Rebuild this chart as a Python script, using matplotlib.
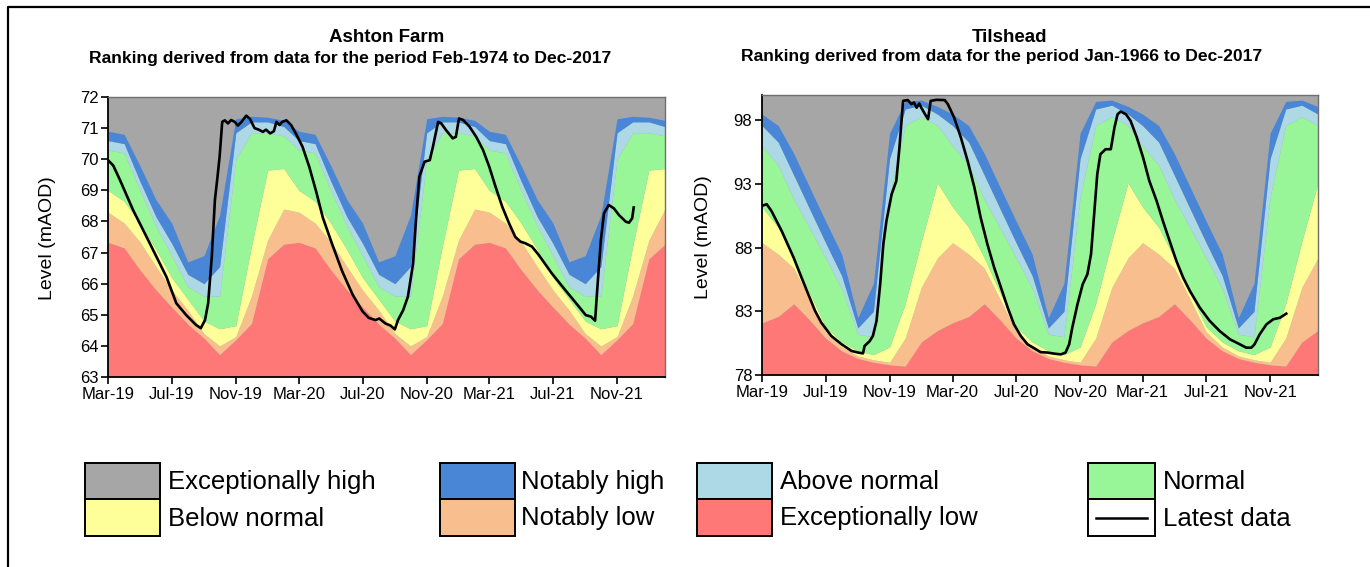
import matplotlib
matplotlib.use('Agg')
import matplotlib.pyplot as plt
import numpy as np
import pandas as pd
from matplotlib.patches import Rectangle
from matplotlib.lines import Line2D

plt.rcParams['font.family'] = ['Liberation Sans', 'DejaVu Sans']

# ---------------- data ----------------
band_months = ['Mar', 'Apr', 'May', 'Jun', 'Jul', 'Aug', 'Sep', 'Oct', 'Nov', 'Dec', 'Jan', 'Feb']
band_start, band_end = '2019-03-01', '2022-02-01'

xtick_dates = ['2019-03-01', '2019-07-01', '2019-11-01', '2020-03-01', '2020-07-01',
               '2020-11-01', '2021-03-01', '2021-07-01', '2021-11-01']
xtick_labels = ['Mar-19', 'Jul-19', 'Nov-19', 'Mar-20', 'Jul-20', 'Nov-20', 'Mar-21', 'Jul-21', 'Nov-21']

# Ashton Farm monthly class boundaries (Mar..Feb), mAOD
ash_exc_high = [70.9, 70.8, 69.8, 68.7, 67.95, 66.7, 66.9, 68.2, 71.3, 71.38, 71.35, 71.25]
ash_not_high = [70.6, 70.5, 69.3, 68.15, 67.3, 66.3, 66.0, 66.55, 70.85, 71.2, 71.2, 71.05]
ash_above = [70.3, 70.2, 69.0, 67.85, 66.9, 65.9, 65.6, 65.6, 70.0, 70.85, 70.85, 70.75]
ash_normal = [69.0, 68.65, 67.95, 67.1, 66.2, 65.5, 64.8, 64.55, 64.65, 67.2, 69.65, 69.7]
ash_below = [68.3, 67.95, 67.35, 66.55, 65.8, 65.15, 64.4, 64.0, 64.3, 65.6, 67.4, 68.4]
ash_not_low = [67.33, 67.15, 66.45, 65.8, 65.25, 64.7, 64.25, 63.72, 64.2, 64.72, 66.8, 67.27]

ash_line_dates = ['2019-03-01', '2019-03-11', '2019-03-24', '2019-04-18', '2019-05-20', '2019-06-21',
                  '2019-07-10', '2019-07-29', '2019-08-17', '2019-08-26', '2019-09-03', '2019-09-09',
                  '2019-09-16', '2019-09-22', '2019-09-27', '2019-10-01', '2019-10-06', '2019-10-11',
                  '2019-10-17', '2019-10-23', '2019-10-30', '2019-11-05', '2019-11-12', '2019-11-21',
                  '2019-11-28', '2019-12-07', '2019-12-15', '2019-12-23', '2019-12-29', '2020-01-06',
                  '2020-01-13', '2020-01-18', '2020-01-24', '2020-01-29', '2020-02-06', '2020-02-15',
                  '2020-02-25', '2020-03-08', '2020-03-21', '2020-04-03', '2020-04-16', '2020-05-04',
                  '2020-05-23', '2020-06-12', '2020-07-01', '2020-07-13', '2020-07-26', '2020-08-02',
                  '2020-08-14', '2020-08-24', '2020-09-01', '2020-09-07', '2020-09-17', '2020-09-26',
                  '2020-10-06', '2020-10-12', '2020-10-18', '2020-10-28', '2020-11-07', '2020-11-13',
                  '2020-11-23', '2020-11-29', '2020-12-08', '2020-12-21', '2020-12-27', '2021-01-02',
                  '2021-01-10', '2021-01-22', '2021-02-04', '2021-02-17', '2021-03-01', '2021-03-13',
                  '2021-03-26', '2021-04-08', '2021-04-20', '2021-04-30', '2021-05-09', '2021-05-22',
                  '2021-06-04', '2021-06-29', '2021-07-25', '2021-08-20', '2021-09-02', '2021-09-12',
                  '2021-09-20', '2021-09-24', '2021-10-01', '2021-10-07', '2021-10-16', '2021-10-26',
                  '2021-11-05', '2021-11-18', '2021-11-24', '2021-11-30', '2021-12-03']
ash_line_vals = [69.97, 69.8, 69.33, 68.37, 67.30, 66.22,
                 65.37, 64.99, 64.67, 64.57, 64.83, 65.37,
                 66.87, 68.69, 69.44, 70.08, 71.20, 71.25,
                 71.15, 71.26, 71.20, 71.08, 71.20, 71.40,
                 71.30, 71.00, 70.95, 70.88, 70.95, 70.83,
                 70.90, 71.20, 71.10, 71.20, 71.25, 71.10,
                 70.80, 70.40, 69.75, 68.97, 68.12, 67.26,
                 66.40, 65.65, 65.11, 64.90, 64.83, 64.88,
                 64.72, 64.65, 64.53, 64.83, 65.15, 65.58,
                 66.65, 68.15, 69.44, 69.92, 69.97, 70.40,
                 71.20, 71.15, 70.94, 70.67, 70.72, 71.31,
                 71.26, 71.05, 70.72, 70.30, 69.76, 69.12,
                 68.47, 67.94, 67.50, 67.35, 67.30, 67.19,
                 66.92, 66.33, 65.79, 65.26, 64.99, 64.94,
                 64.81, 65.80, 67.40, 68.26, 68.53, 68.42,
                 68.20, 67.99, 67.96, 68.10, 68.45]

# Tilshead monthly class boundaries (Mar..Feb), mAOD
til_exc_high = [98.5, 97.6, 95.4, 92.7, 90.1, 87.5, 82.5, 85.2, 97.0, 99.5, 99.6, 99.1]
til_not_high = [97.6, 96.3, 93.7, 91.0, 88.4, 85.8, 81.7, 83.0, 95.0, 98.9, 99.2, 98.5]
til_above = [96.0, 94.5, 91.8, 89.5, 87.2, 84.8, 81.2, 81.0, 92.0, 97.6, 98.3, 97.6]
til_normal = [91.2, 89.6, 87.2, 84.4, 81.8, 80.6, 79.9, 79.6, 80.2, 83.6, 88.5, 93.1]
til_below = [88.4, 87.5, 86.4, 83.9, 81.4, 80.2, 79.5, 79.2, 79.0, 80.9, 84.9, 87.2]
til_not_low = [82.1, 82.6, 83.6, 82.3, 80.9, 79.9, 79.3, 79.0, 78.8, 78.7, 80.6, 81.5]

til_line_dates = ['2019-03-01', '2019-03-10', '2019-03-19', '2019-04-08', '2019-05-01', '2019-05-16',
                  '2019-05-29', '2019-06-11', '2019-06-23', '2019-07-12', '2019-08-01', '2019-08-20',
                  '2019-09-02', '2019-09-11', '2019-09-14', '2019-09-24', '2019-09-30', '2019-10-07',
                  '2019-10-14', '2019-10-20', '2019-10-26', '2019-11-05', '2019-11-14', '2019-11-20',
                  '2019-11-27', '2019-12-06', '2019-12-13', '2019-12-18', '2019-12-23', '2019-12-28',
                  '2020-01-01', '2020-01-08', '2020-01-14', '2020-01-19', '2020-01-30', '2020-02-15',
                  '2020-02-21', '2020-03-04', '2020-03-17', '2020-03-30', '2020-04-12', '2020-04-24',
                  '2020-05-07', '2020-05-20', '2020-06-02', '2020-06-15', '2020-06-27', '2020-07-10',
                  '2020-07-23', '2020-08-05', '2020-08-17', '2020-08-31', '2020-09-12', '2020-09-25',
                  '2020-10-04', '2020-10-11', '2020-10-17', '2020-10-27', '2020-11-06', '2020-11-15',
                  '2020-11-22', '2020-11-28', '2020-12-04', '2020-12-10', '2020-12-20', '2020-12-30',
                  '2021-01-06', '2021-01-12', '2021-01-18', '2021-01-28', '2021-02-06', '2021-02-18',
                  '2021-03-02', '2021-03-14', '2021-03-28', '2021-04-09', '2021-04-22', '2021-05-05',
                  '2021-05-18', '2021-05-31', '2021-06-19', '2021-07-08', '2021-07-27', '2021-08-16',
                  '2021-09-04', '2021-09-16', '2021-09-26', '2021-10-02', '2021-10-12', '2021-10-25',
                  '2021-11-07', '2021-11-20', '2021-12-02']
til_line_vals = [91.29, 91.42, 90.90, 89.30, 87.20, 85.65,
                 84.34, 83.03, 82.11, 81.07, 80.41, 79.89,
                 79.76, 79.70, 80.28, 80.67, 81.07, 82.25,
                 85.13, 88.27, 90.10, 92.20, 93.25, 95.87,
                 99.54, 99.60, 99.28, 99.41, 99.00, 99.33,
                 99.00, 98.50, 98.10, 99.54, 99.62, 99.60,
                 99.28, 98.23, 96.66, 94.82, 92.73, 90.37,
                 88.27, 86.44, 84.87, 83.29, 81.98, 81.07,
                 80.41, 80.10, 79.80, 79.76, 79.68, 79.62,
                 79.76, 80.41, 81.72, 83.56, 85.13, 85.91,
                 87.49, 90.63, 93.78, 95.35, 95.74, 95.74,
                 97.44, 98.49, 98.70, 98.49, 97.97, 96.66,
                 95.09, 93.25, 91.68, 90.11, 88.53, 86.96,
                 85.65, 84.60, 83.29, 82.25, 81.46, 80.80,
                 80.41, 80.15, 80.15, 80.41, 81.20, 81.98,
                 82.38, 82.50, 82.82]

class_names = ['Exceptionally high', 'Notably high', 'Above normal', 'Normal',
               'Below normal', 'Notably low', 'Exceptionally low']
class_colors = ['#A6A6A6', '#4A86D6', '#ADD8E6', '#98F598', '#FFFF99', '#F8BE8D', '#FF7878']

# ---------------- drawing ----------------
W, H = 1370, 567
fig = plt.figure(figsize=(W / 100, H / 100), dpi=100)
fig.patch.set_facecolor('white')


def fx(px):
    return px / W


def fy(py):
    return 1 - py / H


band_dates = pd.date_range(band_start, band_end, freq='MS')


def to_series(vals):
    lookup = dict(zip(band_months, vals))
    return np.array([lookup[d.strftime('%b')] for d in band_dates])


def draw_panel(rect, bounds, ylim, yticks, line_dates, line_vals):
    ax = fig.add_axes(rect)
    ax.set_facecolor(class_colors[0])
    series = [to_series(b) for b in bounds]  # top -> bottom boundaries
    lower = [ylim[0]] * len(band_dates)
    ax.fill_between(band_dates, lower, series[5], color=class_colors[6], lw=0)
    for i in range(5, 0, -1):
        ax.fill_between(band_dates, series[i], series[i - 1], color=class_colors[i], lw=0)
    ax.plot(pd.to_datetime(line_dates), line_vals, color='black', lw=1.9, solid_joinstyle='round')
    ax.set_xlim(pd.Timestamp(band_start), pd.Timestamp(band_end))
    ax.set_ylim(*ylim)
    ax.set_yticks(yticks)
    ax.set_yticklabels([str(t) for t in yticks], fontsize=12)
    ax.set_xticks(pd.to_datetime(xtick_dates))
    ax.set_xticklabels(xtick_labels, fontsize=12)
    ax.tick_params(axis='both', direction='out', length=5, width=1.2, colors='black', pad=2)
    for s in ['left', 'bottom']:
        ax.spines[s].set_color('black')
        ax.spines[s].set_linewidth(1.3)
    for s in ['top', 'right']:
        ax.spines[s].set_color('#707070')
        ax.spines[s].set_linewidth(1.0)
    return ax


ax1 = draw_panel([fx(108), fy(377), fx(665) - fx(108), fy(97) - fy(377)],
                 [ash_exc_high, ash_not_high, ash_above, ash_normal, ash_below, ash_not_low],
                 (63, 72), list(range(63, 73)), ash_line_dates, ash_line_vals)
ax2 = draw_panel([fx(762), fy(375), fx(1318) - fx(762), fy(95) - fy(375)],
                 [til_exc_high, til_not_high, til_above, til_normal, til_below, til_not_low],
                 (78, 100), [78, 83, 88, 93, 98], til_line_dates, til_line_vals)

# titles
fig.text(fx(387), fy(37), 'Ashton Farm', ha='center', va='center', fontsize=13.5, fontweight='bold')
fig.text(fx(350), fy(59), 'Ranking derived from data for the period Feb-1974 to Dec-2017',
         ha='center', va='center', fontsize=12.6, fontweight='bold')
fig.text(fx(1009), fy(37), 'Tilshead', ha='center', va='center', fontsize=13.5, fontweight='bold')
fig.text(fx(1002), fy(57), 'Ranking derived from data for the period Jan-1966 to Dec-2017',
         ha='center', va='center', fontsize=12.6, fontweight='bold')

# y labels
fig.text(fx(47), fy(238), 'Level (mAOD)', rotation=90, ha='center', va='center', fontsize=14)
fig.text(fx(703), fy(237), 'Level (mAOD)', rotation=90, ha='center', va='center', fontsize=14)

# legend
legend_cols = [(85, 160, 168), (440, 515, 521), (697, 772, 780), (1088, 1155, 1163)]
legend_items = [(class_names[0], class_names[4]), (class_names[1], class_names[5]),
                (class_names[2], class_names[6]), (class_names[3], 'Latest data')]
legend_colors = [(class_colors[0], class_colors[4]), (class_colors[1], class_colors[5]),
                 (class_colors[2], class_colors[6]), (class_colors[3], 'white')]
row_top, row_mid, row_bot = 463, 499, 536
for (x0, x1, xt), (n1, n2), (c1, c2) in zip(legend_cols, legend_items, legend_colors):
    for (ya, yb, name, col) in [(row_top, row_mid, n1, c1), (row_mid, row_bot, n2, c2)]:
        fig.add_artist(Rectangle((fx(x0), fy(yb)), fx(x1) - fx(x0), fy(ya) - fy(yb),
                                 facecolor=col, edgecolor='black', lw=1.4, transform=fig.transFigure))
        fig.text(fx(xt), fy((ya + yb) / 2 + 1), name, ha='left', va='center', fontsize=18.5)
        if name == 'Latest data':
            fig.add_artist(Line2D([fx(x0 + 8), fx(x1 - 8)], [fy((ya + yb) / 2)] * 2,
                                  color='black', lw=1.8, transform=fig.transFigure))

# outer frame (left and top edges)
fig.add_artist(Line2D([fx(8), fx(8), 1.0], [0.0, fy(7), fy(7)], color='black', lw=1.6,
                      transform=fig.transFigure))

fig.savefig('out.png', dpi=100)
